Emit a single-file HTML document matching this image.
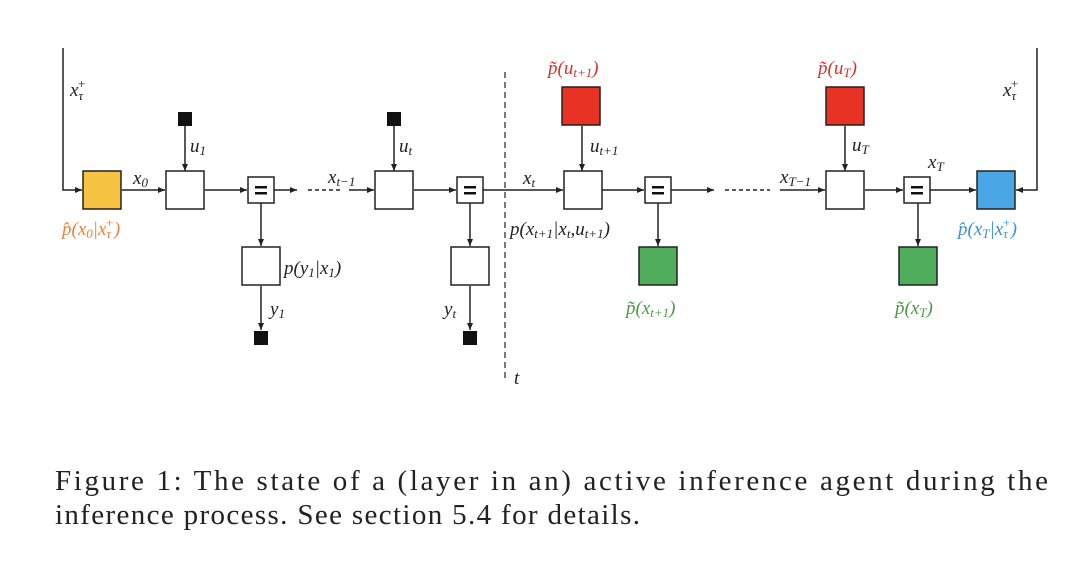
<!DOCTYPE html>
<html><head><meta charset="utf-8"><style>
html,body{margin:0;padding:0;background:#fff;}
svg{display:block}
.m{font-family:"Liberation Serif",serif;font-style:italic;font-size:19px;fill:#222}
.s{font-size:13px}
.c{font-family:"Liberation Serif",serif;font-size:29px;fill:#222}
</style></head><body>
<svg width="1080" height="588" viewBox="0 0 1080 588" xmlns="http://www.w3.org/2000/svg">
<defs><marker id="a" markerWidth="8" markerHeight="8" refX="7" refY="4" orient="auto" markerUnits="userSpaceOnUse"><path d="M0,1 L7,4 L0,7 z" fill="#222"/></marker></defs>
<g stroke="#222" stroke-width="1.5" fill="none">
<polyline points="63,48 63,190 82,190" marker-end="url(#a)"/>
<polyline points="1037,48 1037,190 1016,190" marker-end="url(#a)"/>
<line x1="122" y1="190" x2="165" y2="190" marker-end="url(#a)"/>
<line x1="205" y1="190" x2="247" y2="190" marker-end="url(#a)"/>
<line x1="274" y1="190" x2="297" y2="190" marker-end="url(#a)"/>
<line x1="308" y1="190" x2="340" y2="190" stroke-dasharray="4,3"/>
<line x1="349" y1="190" x2="374" y2="190" marker-end="url(#a)"/>
<line x1="414" y1="190" x2="456" y2="190" marker-end="url(#a)"/>
<line x1="483" y1="190" x2="563" y2="190" marker-end="url(#a)"/>
<line x1="602" y1="190" x2="644" y2="190" marker-end="url(#a)"/>
<line x1="671" y1="190" x2="714" y2="190" marker-end="url(#a)"/>
<line x1="725" y1="190" x2="770" y2="190" stroke-dasharray="4,3"/>
<line x1="780" y1="190" x2="825" y2="190" marker-end="url(#a)"/>
<line x1="865" y1="190" x2="903" y2="190" marker-end="url(#a)"/>
<line x1="930" y1="190" x2="976" y2="190" marker-end="url(#a)"/>
<line x1="185" y1="126" x2="185" y2="171" marker-end="url(#a)"/>
<line x1="394" y1="126" x2="394" y2="171" marker-end="url(#a)"/>
<line x1="582" y1="126" x2="582" y2="171" marker-end="url(#a)"/>
<line x1="845" y1="126" x2="845" y2="171" marker-end="url(#a)"/>
<line x1="261" y1="203" x2="261" y2="246" marker-end="url(#a)"/>
<line x1="261" y1="286" x2="261" y2="330" marker-end="url(#a)"/>
<line x1="470" y1="203" x2="470" y2="246" marker-end="url(#a)"/>
<line x1="470" y1="286" x2="470" y2="330" marker-end="url(#a)"/>
<line x1="658" y1="203" x2="658" y2="246" marker-end="url(#a)"/>
<line x1="918" y1="203" x2="918" y2="246" marker-end="url(#a)"/>
<line x1="505" y1="72" x2="505" y2="382" stroke-dasharray="6,4" stroke-width="1.2"/>
</g>
<g stroke="#222" stroke-width="1.5">
<rect x="83" y="171" width="38" height="38" fill="#f6c343"/>
<rect x="166" y="171" width="38" height="38" fill="#fff"/>
<rect x="375" y="171" width="38" height="38" fill="#fff"/>
<rect x="564" y="171" width="38" height="38" fill="#fff"/>
<rect x="826" y="171" width="38" height="38" fill="#fff"/>
<rect x="977" y="171" width="38" height="38" fill="#4aa6e4"/>
<rect x="248" y="177" width="26" height="26" fill="#fff"/>
<rect x="457" y="177" width="26" height="26" fill="#fff"/>
<rect x="645" y="177" width="26" height="26" fill="#fff"/>
<rect x="904" y="177" width="26" height="26" fill="#fff"/>
<rect x="242" y="247" width="38" height="38" fill="#fff"/>
<rect x="451" y="247" width="38" height="38" fill="#fff"/>
<rect x="639" y="247" width="38" height="38" fill="#4fad5b"/>
<rect x="899" y="247" width="38" height="38" fill="#4fad5b"/>
<rect x="562" y="87" width="38" height="38" fill="#e83324"/>
<rect x="826" y="87" width="38" height="38" fill="#e83324"/>
</g>
<g fill="#111">
<rect x="178" y="112" width="14" height="14"/><rect x="387" y="112" width="14" height="14"/>
<rect x="254" y="331" width="14" height="14"/><rect x="463" y="331" width="14" height="14"/>
<rect x="255" y="186" width="12" height="2.5"/><rect x="255" y="192" width="12" height="2.5"/>
<rect x="464" y="186" width="12" height="2.5"/><rect x="464" y="192" width="12" height="2.5"/>
<rect x="652" y="186" width="12" height="2.5"/><rect x="652" y="192" width="12" height="2.5"/>
<rect x="911" y="186" width="12" height="2.5"/><rect x="911" y="192" width="12" height="2.5"/>
</g>
<g class="m">
<text x="70" y="96">x<tspan class="s" dy="4">τ</tspan><tspan class="s" dx="-6" dy="-12">+</tspan></text>
<text x="1003" y="96">x<tspan class="s" dy="4">τ</tspan><tspan class="s" dx="-6" dy="-12">+</tspan></text>
<text x="133" y="184">x<tspan class="s" dy="3">0</tspan></text>
<text x="190" y="152">u<tspan class="s" dy="3">1</tspan></text>
<text x="399" y="152">u<tspan class="s" dy="3">t</tspan></text>
<text x="328" y="183">x<tspan class="s" dy="3">t−1</tspan></text>
<text x="284" y="274">p(y<tspan class="s" dy="3">1</tspan><tspan dy="-3">|x</tspan><tspan class="s" dy="3">1</tspan><tspan dy="-3">)</tspan></text>
<text x="270" y="315">y<tspan class="s" dy="3">1</tspan></text>
<text x="444" y="315">y<tspan class="s" dy="3">t</tspan></text>
<text x="62" y="235" fill="#e8823a">p̂(x<tspan class="s" dy="3">0</tspan><tspan dy="-3">|x</tspan><tspan class="s" dy="3">τ</tspan><tspan class="s" dx="-6" dy="-11">+</tspan><tspan dy="8">)</tspan></text>
<text x="548" y="74" fill="#d8322a">p̃(u<tspan class="s" dy="3">t+1</tspan><tspan dy="-3">)</tspan></text>
<text x="818" y="74" fill="#d8322a">p̃(u<tspan class="s" dy="3">T</tspan><tspan dy="-3">)</tspan></text>
<text x="590" y="152">u<tspan class="s" dy="3">t+1</tspan></text>
<text x="852" y="151">u<tspan class="s" dy="3">T</tspan></text>
<text x="523" y="184">x<tspan class="s" dy="3">t</tspan></text>
<text x="780" y="183">x<tspan class="s" dy="3">T−1</tspan></text>
<text x="928" y="168">x<tspan class="s" dy="3">T</tspan></text>
<text x="510" y="235">p(x<tspan class="s" dy="3">t+1</tspan><tspan dy="-3">|x</tspan><tspan class="s" dy="3">t</tspan><tspan dy="-3">,u</tspan><tspan class="s" dy="3">t+1</tspan><tspan dy="-3">)</tspan></text>
<text x="626" y="314" fill="#4a9a45">p̃(x<tspan class="s" dy="3">t+1</tspan><tspan dy="-3">)</tspan></text>
<text x="895" y="314" fill="#4a9a45">p̃(x<tspan class="s" dy="3">T</tspan><tspan dy="-3">)</tspan></text>
<text x="958" y="235" fill="#3d8fd6">p̂(x<tspan class="s" dy="3">T</tspan><tspan dy="-3">|x</tspan><tspan class="s" dy="3">τ</tspan><tspan class="s" dx="-6" dy="-11">+</tspan><tspan dy="8">)</tspan></text>
<text x="514" y="384">t</text>
</g>
<text class="c" x="55" y="490" textLength="993" lengthAdjust="spacing">Figure 1:  The state of a (layer in an) active inference agent during the</text>
<text class="c" x="55" y="524" textLength="585" lengthAdjust="spacing">inference process. See section 5.4 for details.</text>
</svg>
</body></html>
